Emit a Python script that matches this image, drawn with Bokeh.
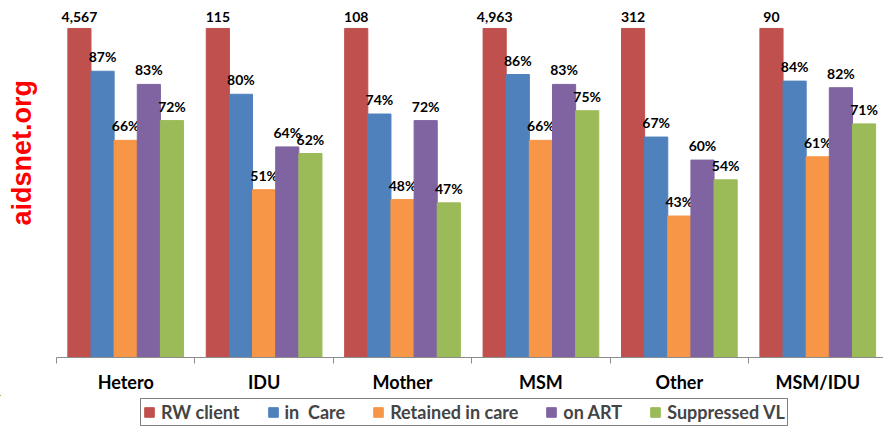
import math
from bokeh.plotting import figure
from bokeh.layouts import column
from bokeh.models import (Range1d, FixedTicker, Legend, LegendItem, ColumnDataSource, Label, LinearAxis)
from bokeh.core.properties import value
from bokeh.embed import file_html
from bokeh.resources import INLINE

categories = ["Hetero", "IDU", "Mother", "MSM", "Other", "MSM/IDU"]
series = ["RW client", "in  Care", "Retained in care", "on ART", "Suppressed VL"]
colors = ["#C0504D", "#4F81BD", "#F79646", "#8064A2", "#9BBB59"]

rw_counts = ["4,567", "115", "108", "4,963", "312", "90"]
rw_client = [100, 100, 100, 100, 100, 100]
in_care = [87, 80, 74, 86, 67, 84]
retained = [66, 51, 48, 66, 43, 61]
on_art = [83, 64, 72, 83, 60, 82]
suppressed = [72, 62, 47, 75, 54, 71]

values = [rw_client, in_care, retained, on_art, suppressed]

FONT = "Lato"
bar_w = 0.1672

p = figure(frame_width=883, frame_height=357, output_backend="svg", toolbar_location=None,
           x_range=Range1d(-0.4046, 5.975), y_range=Range1d(0, 108.5),
           min_border_left=0, min_border_right=0, min_border_top=0, min_border_bottom=0,
           x_axis_location=None, y_axis_location=None)
p.outline_line_color = None
p.xgrid.visible = False
p.ygrid.visible = False

sources = []
for j, (name, col, vals) in enumerate(zip(series, colors, values)):
    xs = [i + 0.5 + (j - 2) * bar_w for i in range(len(categories))]
    labels = rw_counts if j == 0 else [f"{v}%" for v in vals]
    src = ColumnDataSource(dict(x=xs, top=vals, label=labels))
    sources.append(src)
    p.vbar(x="x", top="top", width=bar_w, source=src, fill_color=col, line_color=col)
    p.text(x="x", y="top", text="label", source=src, text_align="center", text_baseline="bottom",
           y_offset=-6, text_font=value(FONT), text_font_style="bold", text_font_size="14px",
           text_color="#000000")

xaxis = LinearAxis(ticker=FixedTicker(ticks=[i + 0.5 for i in range(len(categories))],
                                      minor_ticks=list(range(len(categories) + 1))),
                   bounds=(0, len(categories)))
xaxis.major_label_overrides = {i + 0.5: c for i, c in enumerate(categories)}
xaxis.axis_line_color = "#8C8C8C"
xaxis.minor_tick_line_color = "#8C8C8C"
xaxis.minor_tick_out = 6
xaxis.minor_tick_in = 0
xaxis.major_tick_line_color = None
xaxis.major_tick_out = 0
xaxis.major_tick_in = 0
xaxis.major_label_standoff = 7
xaxis.major_label_text_font = FONT
xaxis.major_label_text_font_style = "bold"
xaxis.major_label_text_font_size = "18px"
xaxis.major_label_text_color = "#000000"
p.add_layout(xaxis, "below")

site = Label(x=-0.2457, y=62.2, text="aidsnet.org", angle=math.pi / 2,
             text_align="center", text_baseline="middle", text_color="#FF0000",
             text_font="Liberation Sans", text_font_style="bold", text_font_size="27px")
p.add_layout(site)

# legend strip below the chart (its bars lie far outside its own ranges, only the legend shows)
lf = figure(frame_width=883, frame_height=31, output_backend="svg", toolbar_location=None,
            x_range=Range1d(100, 106), y_range=Range1d(-2, -1),
            min_border_left=0, min_border_right=0, min_border_top=0, min_border_bottom=0,
            x_axis_location=None, y_axis_location=None)
lf.outline_line_color = None
lf.xgrid.visible = False
lf.ygrid.visible = False

items = []
for name, col, src in zip(series, colors, sources):
    r = lf.vbar(x="x", top="top", width=bar_w, source=src, fill_color=col, line_color=col)
    items.append(LegendItem(label=name, renderers=[r]))

legend = Legend(items=items, orientation="horizontal", location=(140, 0))
legend.border_line_color = "#000000"
legend.border_line_width = 1
legend.label_text_font = FONT
legend.label_text_font_style = "bold"
legend.label_text_font_size = "18px"
legend.glyph_width = 12
legend.glyph_height = 12
legend.label_standoff = 6
legend.spacing = 27
legend.padding = 2
legend.margin = 0
lf.add_layout(legend, "center")

layout = column(p, lf)
open("out.html", "w").write(file_html(layout, INLINE))
